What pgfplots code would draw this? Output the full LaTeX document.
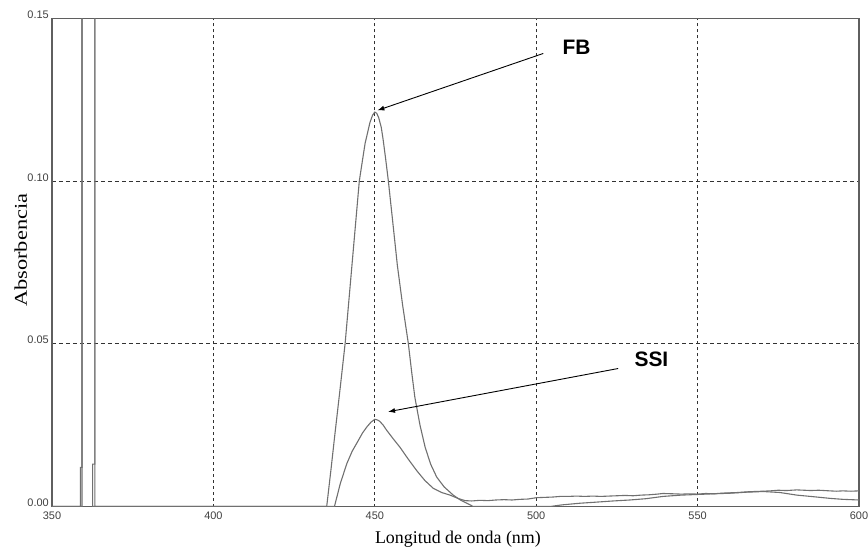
\documentclass[border=0pt]{standalone}
\usepackage{pgfplots}
\pgfplotsset{compat=1.18}
\usepackage{fontspec}
\setmainfont{Liberation Serif}
\newfontfamily\arial{Liberation Sans}
\newfontfamily\widefont[FakeStretch=1.25]{Liberation Serif}
\usetikzlibrary{arrows.meta}
\definecolor{curve}{RGB}{112,112,112}
\definecolor{axisgray}{RGB}{95,95,95}
\definecolor{gridc}{RGB}{50,50,50}

\pgfplotstableread{
x y
350 0
359.3 0
359.3 0.3
363.3 0.3
363.3 0
435.1 0
436.5 0.012
437.5 0.021
439.0 0.034
440.8 0.050
443.0 0.075
445.2 0.100
446.2 0.1065
447.0 0.1116
447.8 0.1150
448.5 0.1180
449.3 0.1202
450.0 0.1212
450.6 0.1208
451.2 0.1195
452.0 0.1165
452.6 0.1126
453.4 0.1065
454.2 0.1000
455.5 0.0880
457.0 0.0740
458.6 0.0620
460.4 0.0500
461.4 0.0415
462.4 0.0336
464.0 0.0250
465.6 0.0182
467.3 0.0130
469.2 0.0090
471.5 0.0060
474.3 0.0035
476.5 0.0020
478.5 0.0010
480.5 0
504.3 0
508 0.0005
513.5 0.0010
518 0.0013
523.8 0.0017
529 0.0020
534 0.0024
539.3 0.0031
545 0.0035
550 0.0037
555 0.0039
560.5 0.0041
565.2 0.0044
570.3 0.0046
575.5 0.0043
580.7 0.0035
586 0.0030
591 0.0025
595 0.0022
600 0.0020
}\fbdata

\pgfplotstableread{
x y
350 0
358.8 0
358.8 0.0120
359.3 0.0120
359.3 0.3
363.3 0.3
363.3 0.0130
362.6 0.0130
362.6 0
437.5 0
439.3 0.0070
441.3 0.0131
443.0 0.0170
444.9 0.0203
446.2 0.0226
447.5 0.0244
448.8 0.0259
450.0 0.0268
450.8 0.0266
451.5 0.0262
452.6 0.0250
453.7 0.0234
455.7 0.0208
457.8 0.0182
460.4 0.0145
463.0 0.0110
465.5 0.0080
468.1 0.0056
470.7 0.0043
473.3 0.0035
476.0 0.0024
478.0 0.0018
480.0 0.0017
482.6 0.0019
485.0 0.0018
487.5 0.0020
490.0 0.0021
492.5 0.0020
495.0 0.0022
497.5 0.0023
500.0 0.0027
502.5 0.0028
505.0 0.0029
507.5 0.0031
510.0 0.0031
512.5 0.0032
515.0 0.0031
517.5 0.0032
520.0 0.0031
522.5 0.0032
525.0 0.0033
527.5 0.0034
530.0 0.0033
532.5 0.0035
535.0 0.0036
537.5 0.0038
539.3 0.0040
542.5 0.0039
545.0 0.0038
547.5 0.0039
550.0 0.0038
552.5 0.0040
555.0 0.0039
557.5 0.0041
560.0 0.0042
562.5 0.0043
565.2 0.0045
567.5 0.0046
570.3 0.0047
572.5 0.0048
575.0 0.0050
577.5 0.0049
580.7 0.0051
583.0 0.0050
585.0 0.0049
587.5 0.0050
591.0 0.0048
593.0 0.0047
595.0 0.0048
597.5 0.0047
600.0 0.0048
}\ssidata

\begin{document}
\begin{tikzpicture}
\begin{axis}[
  scale only axis, width=807bp, height=488.2bp,
  xmin=350, xmax=600, ymin=0, ymax=0.15,
  xtick={350,400,450,500,550,600},
  xticklabels={350,400,450,500,550,600},
  ytick={0,0.05,0.10,0.15},
  yticklabels={0.00,0.05,0.10,0.15},
  major tick length=0pt,
  ticklabel style={font=\arial\fontsize{11}{13}\selectfont, text=black!75},
  xticklabel style={anchor=north, inner sep=0pt, yshift=-5.5bp},
  yticklabel style={anchor=base east, inner sep=0pt, xshift=-3bp},
  xmajorgrids, ymajorgrids,
  x grid style={dash pattern=on 3bp off 3bp, draw=gridc, line width=0.9bp},
  y grid style={dash pattern=on 4bp off 3bp, draw=gridc, line width=0.9bp},
  axis line style={draw=axisgray, line width=1.2bp},
  xlabel={Longitud de onda (nm)},
  ylabel={Absorbencia},
  xlabel style={font=\fontsize{18}{20}\selectfont, at={(rel axis cs:0.503,-0.0666)}, anchor=center},
  ylabel style={font=\widefont\fontsize{18}{20}\selectfont, at={(rel axis cs:-0.0388,0.525)}, anchor=center},
]
\addplot[curve, line width=1.1bp, no marks] table {\fbdata};
\addplot[curve, line width=1.1bp, no marks] table {\ssidata};
\draw[black, line width=0.9bp, -{Latex[length=7bp,width=5bp]}] (axis cs:502.2,0.1392) -- (axis cs:450.8,0.1217);
\draw[black, line width=0.9bp, -{Latex[length=7bp,width=5bp]}] (axis cs:525.4,0.0424) -- (axis cs:454.1,0.0291);
\node[font=\arial\bfseries\fontsize{21}{24}\selectfont, anchor=center] at (axis cs:512.5,0.1410) {FB};
\node[font=\arial\bfseries\fontsize{21}{24}\selectfont, anchor=center] at (axis cs:535.7,0.0452) {SSI};
\end{axis}
\pgfresetboundingbox
\path[use as bounding box] ([xshift=-52bp,yshift=-48.5bp]current axis.south west) rectangle ([xshift=9bp,yshift=18.3bp]current axis.north east);
\end{tikzpicture}
\end{document}
